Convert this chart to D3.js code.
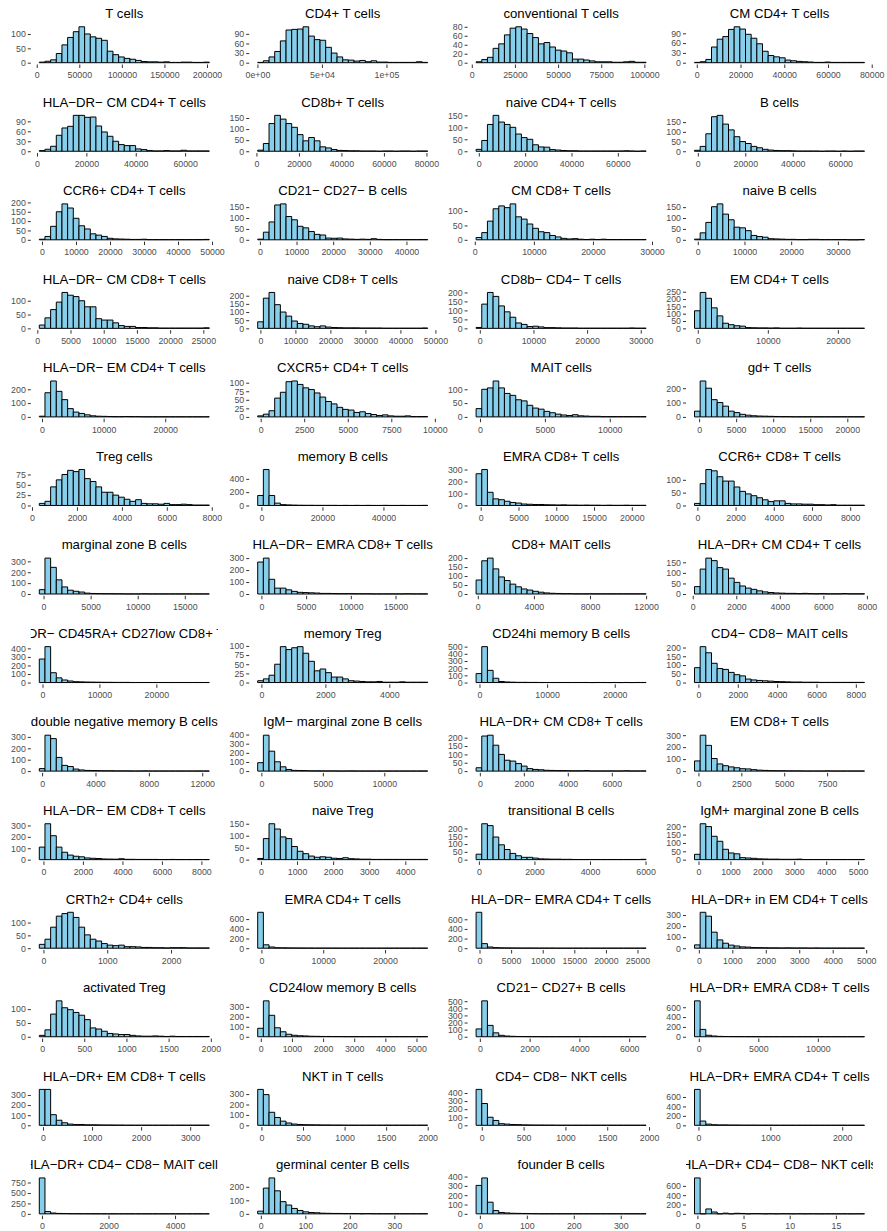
<!DOCTYPE html>
<html>
<head>
<meta charset="utf-8">
<script src="https://cdn.jsdelivr.net/npm/d3@7"></script>
<style>
  body { margin: 0; background: #fff; }
  svg { display: block; font-family: "Liberation Sans", Arial, sans-serif; }
</style>
</head>
<body>
<script>
// Panel titles, in reading order (4 per row)
const titles = [
  "T cells","CD4+ T cells","conventional T cells","CM CD4+ T cells",
  "HLA−DR− CM CD4+ T cells","CD8b+ T cells","naive CD4+ T cells","B cells",
  "CCR6+ CD4+ T cells","CD21− CD27− B cells","CM CD8+ T cells","naive B cells",
  "HLA−DR− CM CD8+ T cells","naive CD8+ T cells","CD8b− CD4− T cells","EM CD4+ T cells",
  "HLA−DR− EM CD4+ T cells","CXCR5+ CD4+ T cells","MAIT cells","gd+ T cells",
  "Treg cells","memory B cells","EMRA CD8+ T cells","CCR6+ CD8+ T cells",
  "marginal zone B cells","HLA−DR− EMRA CD8+ T cells","CD8+ MAIT cells","HLA−DR+ CM CD4+ T cells",
  "HLA−DR− CD45RA+ CD27low CD8+ T cells","memory Treg","CD24hi memory B cells","CD4− CD8− MAIT cells",
  "double negative memory B cells","IgM− marginal zone B cells","HLA−DR+ CM CD8+ T cells","EM CD8+ T cells",
  "HLA−DR− EM CD8+ T cells","naive Treg","transitional B cells","IgM+ marginal zone B cells",
  "CRTh2+ CD4+ cells","EMRA CD4+ T cells","HLA−DR− EMRA CD4+ T cells","HLA−DR+ in EM CD4+ T cells",
  "activated Treg","CD24low memory B cells","CD21− CD27+ B cells","HLA−DR+ EMRA CD8+ T cells",
  "HLA−DR+ EM CD8+ T cells","NKT in T cells","CD4− CD8− NKT cells","HLA−DR+ EMRA CD4+ T cells",
  "HLA−DR+ CD4− CD8− MAIT cells","germinal center B cells","founder B cells","HLA−DR+ CD4− CD8− NKT cells"
];

// Left edge of the first bin and right edge of the last bin, per panel
const binRanges = [
  [3000,202700],[200,132000],[2500,101000],[-1050,76700],
  [930,69800],[600,80600],[-1165,72200],[-1390,70200],
  [-790,49200],[-600,45800],[220,29000],[-700,35700],
  [300,25900],[-770,47800],[-690,31000],[-470,23800],
  [-440,27150],[-170,9590],[-300,12800],[-620,22320],
  [325,7890],[-1210,54500],[-610,21890],[-150,8750],
  [-450,17600],[-415,18600],[-120,12000],[80,7890],
  [-560,29300],[-116,5200],[-500,24640],[-200,8440],
  [-210,12530],[-300,13530],[-170,7560],[-230,9680],
  [-210,8400],[-90,4620],[-100,6020],[-125,5200],
  [-65,2600],[-600,26900],[-540,26360],[-130,4950],
  [-33,1982],[-100,5360],[-150,6680],[-360,13920],
  [-75,3390],[-45,2000],[-68,1965],[-55,2310],
  [-80,5030],[-7,375],[-8,354],[-0.31,18.1]
];

// Counts in each of the 30 bins, per panel
const counts = [
  [2,5,10,32,62,88,108,125,100,90,85,78,40,28,20,15,12,8,4,3,3,2,3,1,1,2,2,1,1,2],
  [1,6,18,35,68,102,104,105,112,83,72,70,48,30,18,9,8,5,7,3,6,2,2,1,1,1,1,1,3,1],
  [2,7,12,32,42,62,77,80,75,65,56,42,45,35,28,26,22,8,8,6,4,2,2,2,1,1,2,3,1,1],
  [1,3,10,48,72,80,102,110,103,87,75,58,35,22,18,15,8,6,4,3,2,1,1,2,1,1,1,1,1,1],
  [2,6,15,48,70,75,108,108,102,103,76,58,45,30,20,17,17,7,5,2,1,1,2,1,1,3,1,1,1,1],
  [5,35,125,162,145,125,108,75,47,62,47,20,15,8,4,3,2,2,1,1,1,0,1,1,0,1,1,0,1,1],
  [8,45,112,150,122,112,100,72,57,50,27,18,17,7,5,3,2,2,1,1,1,1,1,1,1,1,2,1,0,1],
  [5,25,90,178,185,140,110,75,50,40,25,18,10,6,4,3,3,2,1,1,1,1,0,1,1,0,1,0,1,1],
  [3,18,72,150,192,170,115,75,58,32,25,18,8,5,4,3,2,2,3,1,1,1,1,1,1,1,1,1,1,2],
  [3,35,82,160,165,107,92,62,55,38,25,22,8,7,8,4,3,2,3,2,5,2,1,1,1,1,1,1,1,1],
  [8,25,65,108,118,112,125,80,72,55,40,28,25,15,10,5,3,4,2,1,2,1,2,1,1,1,1,1,1,1],
  [3,32,80,152,165,118,92,58,55,42,20,15,12,5,4,3,2,2,1,1,2,2,1,1,1,1,1,0,0,1],
  [12,38,68,95,130,120,115,100,78,78,35,30,30,20,10,7,7,3,3,2,2,1,1,1,1,1,1,1,1,2],
  [40,185,220,145,100,75,45,30,25,15,10,15,8,5,4,3,3,3,2,2,2,2,1,1,1,1,1,1,1,2],
  [5,135,200,178,125,92,62,30,22,10,12,8,4,4,3,2,2,2,1,1,1,1,1,1,1,1,1,2,1,1],
  [120,245,205,140,85,35,25,18,15,5,4,3,3,2,3,1,1,1,2,1,1,1,1,1,1,1,1,1,1,1],
  [5,175,260,185,125,60,35,25,15,8,5,4,3,2,2,3,2,2,1,1,1,1,1,1,1,1,1,1,1,1],
  [3,8,18,55,72,103,105,95,85,80,70,58,45,38,28,22,20,13,15,10,7,4,6,3,2,2,3,1,1,1],
  [30,100,105,130,105,85,78,62,58,42,32,28,20,15,10,7,5,8,4,3,2,2,1,1,1,1,1,1,1,1],
  [40,250,200,120,100,75,40,30,18,12,8,6,5,4,3,2,2,1,1,1,1,1,1,1,1,1,1,1,1,1],
  [5,10,45,62,75,85,82,87,65,58,45,32,32,25,20,15,10,14,5,4,4,3,5,2,2,3,2,1,1,1],
  [150,540,150,35,12,8,5,3,2,2,1,1,1,1,0,1,0,1,0,1,0,0,1,0,0,1,0,0,0,1],
  [265,300,110,55,48,35,25,20,12,10,8,8,6,5,4,5,3,3,2,3,2,2,1,2,1,1,2,1,1,1],
  [8,85,140,135,112,95,95,72,55,45,38,30,22,15,18,18,8,6,6,5,5,3,3,2,3,1,1,1,1,1],
  [40,330,245,130,65,35,25,18,8,5,4,3,3,2,2,1,1,1,2,1,1,1,1,1,1,1,1,1,1,1],
  [267,300,123,49,49,35,22,14,12,10,8,5,5,4,3,3,3,2,2,2,1,1,1,1,1,1,2,1,1,1],
  [78,185,200,140,95,75,55,40,28,22,15,10,6,4,3,2,2,1,1,1,1,1,1,1,1,1,1,1,1,1],
  [35,118,170,158,125,118,75,55,38,28,22,15,10,7,5,4,3,3,2,3,2,1,2,1,1,1,2,1,1,1],
  [275,420,115,55,30,18,10,8,6,5,4,3,3,2,2,2,1,1,1,1,1,1,1,1,1,1,1,1,1,1],
  [5,10,20,50,98,90,95,98,80,58,32,37,27,15,15,10,5,4,3,2,2,3,1,1,1,2,1,1,1,1],
  [125,500,170,60,15,8,5,3,3,2,2,1,1,1,1,1,1,1,1,1,0,1,1,0,1,0,1,0,1,1],
  [85,205,170,110,80,75,58,45,38,20,15,12,10,8,6,5,4,3,3,2,2,2,1,1,1,1,1,1,1,1],
  [22,315,285,120,50,40,18,10,6,5,4,3,3,2,2,2,1,1,2,1,1,1,1,1,1,1,1,1,1,1],
  [92,393,218,102,47,18,8,6,5,3,3,2,2,2,1,1,2,1,1,1,1,1,1,1,1,1,1,1,1,1],
  [20,210,215,155,100,65,60,45,30,15,10,8,5,4,3,3,2,2,2,3,1,1,1,1,1,1,2,1,1,1],
  [85,300,215,105,60,45,35,28,20,18,12,8,6,4,3,3,2,2,2,1,1,1,1,2,1,1,1,1,1,1],
  [110,315,210,110,65,40,30,25,15,12,10,6,5,4,8,3,3,2,2,2,2,1,1,2,1,1,1,1,1,1],
  [5,88,150,128,95,88,55,35,25,15,10,12,10,6,5,8,4,3,2,2,1,1,1,1,1,1,1,1,1,1],
  [35,230,218,145,95,65,40,25,15,15,10,5,4,3,3,2,2,1,1,1,1,1,1,1,1,1,1,1,1,2],
  [32,215,198,140,110,62,40,35,12,10,8,5,4,3,3,2,2,2,3,1,1,1,1,1,1,1,1,1,1,1],
  [15,35,82,125,135,140,120,82,52,35,28,18,12,10,12,6,6,5,3,3,2,2,1,2,2,2,1,1,1,1],
  [740,70,25,10,8,6,5,4,3,3,2,2,2,2,1,1,1,1,1,1,1,1,1,1,1,1,1,1,1,1],
  [745,95,25,12,8,6,5,4,3,3,2,2,2,2,1,1,1,1,1,1,1,1,1,1,1,1,1,1,1,1],
  [30,325,290,145,75,45,28,20,12,10,6,5,4,3,3,2,3,2,2,2,1,2,1,1,1,1,1,1,1,1],
  [5,25,82,130,105,98,88,78,62,32,28,20,12,10,8,8,5,3,2,2,3,2,1,2,1,1,1,1,1,1],
  [85,360,215,90,50,25,15,10,8,5,4,3,3,2,2,1,1,1,1,1,1,1,1,1,1,1,1,1,1,1],
  [110,505,160,55,20,10,6,4,3,2,2,1,1,1,1,1,1,1,1,1,1,1,1,1,1,1,1,1,1,1],
  [730,150,30,15,8,5,4,3,3,2,2,1,1,1,1,1,1,1,1,1,1,1,1,1,1,1,1,1,1,1],
  [355,355,105,50,25,12,8,8,5,5,4,3,3,2,2,1,1,1,1,1,1,1,1,1,1,1,1,1,1,1],
  [345,295,125,75,40,22,12,8,6,5,4,3,3,2,2,1,1,1,1,1,1,1,1,1,1,1,1,1,1,1],
  [445,270,100,60,20,15,10,8,5,4,3,3,2,2,1,1,1,1,1,1,1,1,1,1,1,1,1,1,1,1],
  [760,90,25,12,8,8,5,5,3,3,3,2,2,2,1,1,1,1,1,1,1,1,1,1,1,1,1,1,1,1],
  [860,55,20,10,8,5,4,3,3,2,2,1,1,1,1,1,1,1,1,1,1,1,1,1,1,1,1,1,1,1],
  [20,190,265,170,90,65,40,25,15,10,8,5,4,3,3,2,2,2,1,2,1,1,1,1,1,1,1,1,1,1],
  [305,385,125,35,15,10,6,5,4,3,2,1,1,1,1,1,1,1,1,1,1,1,1,1,1,1,1,1,1,1],
  [770,0,105,40,0,15,0,12,8,0,5,4,0,3,0,3,2,0,2,0,2,1,0,1,1,0,1,0,1,1]
];

// x-axis tick labels (their numeric value is the tick position)
const xTickLabels = [
  ["0","50000","100000","150000","200000"],["0e+00","5e+04","1e+05"],["0","25000","50000","75000","100000"],["0","20000","40000","60000","80000"],
  ["0","20000","40000","60000"],["0","20000","40000","60000","80000"],["0","20000","40000","60000"],["0","20000","40000","60000"],
  ["0","10000","20000","30000","40000","50000"],["0","10000","20000","30000","40000"],["0","10000","20000","30000"],["0","10000","20000","30000"],
  ["0","5000","10000","15000","20000","25000"],["0","10000","20000","30000","40000","50000"],["0","10000","20000","30000"],["0","10000","20000"],
  ["0","10000","20000"],["0","2500","5000","7500","10000"],["0","5000","10000"],["0","5000","10000","15000","20000"],
  ["0","2000","4000","6000","8000"],["0","20000","40000"],["0","5000","10000","15000","20000"],["0","2000","4000","6000","8000"],
  ["0","5000","10000","15000"],["0","5000","10000","15000"],["0","4000","8000","12000"],["0","2000","4000","6000","8000"],
  ["0","10000","20000"],["0","2000","4000"],["0","10000","20000"],["0","2000","4000","6000","8000"],
  ["0","4000","8000","12000"],["0","5000","10000"],["0","2000","4000","6000"],["0","2500","5000","7500"],
  ["0","2000","4000","6000","8000"],["0","1000","2000","3000","4000"],["0","2000","4000","6000"],["0","1000","2000","3000","4000","5000"],
  ["0","1000","2000"],["0","10000","20000"],["0","5000","10000","15000","20000","25000"],["0","1000","2000","3000","4000","5000"],
  ["0","500","1000","1500","2000"],["0","1000","2000","3000","4000","5000"],["0","2000","4000","6000"],["0","5000","10000"],
  ["0","1000","2000","3000"],["0","500","1000","1500","2000"],["0","500","1000","1500","2000"],["0","1000","2000"],
  ["0","2000","4000"],["0","100","200","300"],["0","100","200","300"],["0","5","10","15"]
];

// y-axis (count) ticks
const yTicks = [
  [0,50,100],[0,30,60,90],[0,20,40,60,80],[0,30,60,90],
  [0,30,60,90],[0,50,100,150],[0,50,100,150],[0,50,100,150],
  [0,50,100,150,200],[0,50,100,150],[0,50,100],[0,50,100,150],
  [0,50,100],[0,50,100,150,200],[0,50,100,150,200],[0,50,100,150,200,250],
  [0,100,200],[0,25,50,75,100],[0,50,100],[0,100,200],
  [0,25,50,75],[0,200,400],[0,100,200,300],[0,50,100],
  [0,100,200,300],[0,100,200,300],[0,50,100,150,200],[0,50,100,150],
  [0,100,200,300,400],[0,25,50,75,100],[0,100,200,300,400,500],[0,50,100,150,200],
  [0,100,200,300],[0,100,200,300,400],[0,50,100,150,200],[0,100,200,300],
  [0,100,200,300],[0,50,100,150],[0,50,100,150,200],[0,50,100,150,200],
  [0,50,100],[0,200,400,600],[0,200,400,600],[0,100,200,300],
  [0,50,100],[0,100,200,300],[0,100,200,300,400,500],[0,200,400,600],
  [0,100,200,300],[0,100,200,300],[0,100,200,300,400],[0,200,400,600],
  [0,250,500,750],[0,100,200],[0,100,200,300,400],[0,200,400,600]
];

// Layout of the 4 x 14 grid of small histograms
const W = 887, H = 1231;
const nCols = 4;
const colPitch = 218.4, rowPitch = 88.55;
const plotLeft0 = 30.8, plotW = 187;
const plotTop0 = 25, plotH = 39.5;
const fill = "#87CEEB";
const tickColor = "#333333", labelColor = "#4D4D4D";

const svg = d3.select("body").append("svg")
  .attr("width", W).attr("height", H)
  .attr("viewBox", `0 0 ${W} ${H}`);

svg.append("rect").attr("width", W).attr("height", H).attr("fill", "#fff");

const defs = svg.append("defs");

titles.forEach((title, i) => {
  const r = Math.floor(i / nCols), c = i % nCols;
  const left = plotLeft0 + c * colPitch;
  const top = plotTop0 + r * rowPitch;
  const bottom = top + plotH;

  const [lo, hi] = binRanges[i];
  const bins = counts[i];
  const bw = (hi - lo) / bins.length;
  const pad = (hi - lo) * 0.05;
  const x = d3.scaleLinear().domain([lo - pad, hi + pad]).range([left, left + plotW]);
  const yMax = d3.max(bins);
  const y = d3.scaleLinear().domain([-0.05 * yMax, 1.05 * yMax]).range([bottom, top]);

  const g = svg.append("g").attr("class", "panel");

  // Title, clipped to the horizontal extent of the plotting area
  const clipId = "clip-title-" + i;
  defs.append("clipPath").attr("id", clipId)
    .append("rect")
    .attr("x", left).attr("y", r * rowPitch)
    .attr("width", plotW).attr("height", top - r * rowPitch);
  g.append("text")
    .attr("clip-path", `url(#${clipId})`)
    .attr("x", left + plotW / 2)
    .attr("y", r * rowPitch + 18)
    .attr("text-anchor", "middle")
    .attr("font-size", "13.2px")
    .attr("fill", "#000")
    .text(title);

  // Histogram bars (paths so that empty bins still show their outline)
  g.append("g").selectAll("path")
    .data(bins)
    .join("path")
    .attr("d", (d, k) => {
      const x0 = x(lo + k * bw), x1 = x(lo + (k + 1) * bw);
      const y0 = y(0), y1 = y(d);
      return `M${x0},${y0}V${y1}H${x1}V${y0}Z`;
    })
    .attr("fill", fill)
    .attr("stroke", "#000")
    .attr("stroke-width", 1);

  // x axis
  const xLabels = xTickLabels[i];
  const xAxis = d3.axisBottom(x)
    .tickValues(xLabels.map(Number))
    .tickFormat((d, k) => xLabels[k])
    .tickSize(3.5)
    .tickPadding(4.1)
    .tickSizeOuter(0);
  const gx = g.append("g").attr("transform", `translate(0,${bottom})`).call(xAxis);
  gx.select(".domain").remove();
  gx.selectAll(".tick line").attr("stroke", tickColor).attr("stroke-width", 1);
  gx.selectAll(".tick text")
    .attr("fill", labelColor)
    .attr("font-size", "8.8px")
    .attr("font-family", "Liberation Sans, Arial, sans-serif");

  // y axis
  const yAxis = d3.axisLeft(y)
    .tickValues(yTicks[i])
    .tickFormat(d3.format("d"))
    .tickSize(3)
    .tickPadding(2)
    .tickSizeOuter(0);
  const gy = g.append("g").attr("transform", `translate(${left},0)`).call(yAxis);
  gy.select(".domain").remove();
  gy.selectAll(".tick line").attr("stroke", tickColor).attr("stroke-width", 1);
  gy.selectAll(".tick text")
    .attr("fill", labelColor)
    .attr("font-size", "8.8px")
    .attr("font-family", "Liberation Sans, Arial, sans-serif");
});
</script>
</body>
</html>
